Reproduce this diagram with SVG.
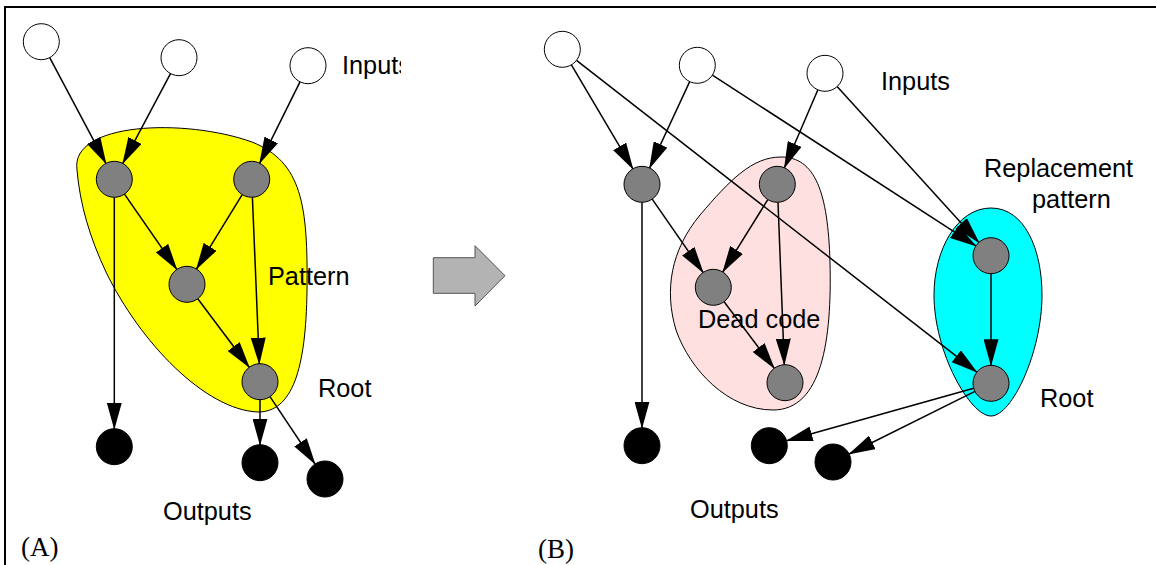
<svg xmlns="http://www.w3.org/2000/svg" width="1156" height="565" viewBox="0 0 1156 565">
<style>
.lbl{font-family:"Liberation Sans",Arial,sans-serif;font-size:25.3px;fill:#000}
.cap{font-family:"Liberation Serif","Times New Roman",serif;font-size:27px;fill:#000}
.in{fill:#fff;stroke:#000;stroke-width:1}
.mid{fill:#808080;stroke:#000;stroke-width:1}
.out{fill:#000;stroke:#000;stroke-width:1}
.e{stroke:#000;stroke-width:1.5;fill:none;marker-end:url(#ah)}
</style>
<defs>
<marker id="ah" viewBox="0 0 27 15" refX="26" refY="7.5" markerWidth="18" markerHeight="10" markerUnits="strokeWidth" orient="auto">
<path d="M0,0 L27,7.5 L0,15 Z" fill="#000"/>
</marker>
<clipPath id="clipIn"><rect x="330" y="40" width="71" height="50"/></clipPath>
</defs>
<rect x="0" y="0" width="1156" height="565" fill="#fff"/>
<g id="frame" stroke="#000" stroke-width="2">
<line x1="5" y1="7" x2="1156" y2="7"/>
<line x1="5" y1="6" x2="5" y2="565"/>
</g>
<g id="pattern-region">
<path d="M77,170 C70,122 185,118 252,142 C302,162 308,205 307,290 C306,370 292,412 258,412 C205,410 140,342 106,272 C90,238 80,205 77,170 Z" fill="#ffff00" stroke="#000" stroke-width="1"/>
</g>
<g id="deadcode-region">
<path d="M781,157 C815,157 828,192 830,262 C832,340 822,410 773,410 C728,410 690,370 676,330 C664,290 671,250 700,215 C730,180 752,157 781,157 Z" fill="#ffe0e0" stroke="#000" stroke-width="1"/>
</g>
<g id="replacement-region">
<path d="M991,208 C1025,208 1042,250 1042,295 C1042,352 1012,416 991,416 C970,416 934,352 934,295 C934,250 957,208 991,208 Z" fill="#00ffff" stroke="#000" stroke-width="1"/>
</g>
<g id="transform-arrow">
<path d="M433.3,257.7 L475,257.7 L475,245.7 L505,275.7 L475,306 L475,293.3 L433.3,293.3 Z" fill="#b3b3b3" stroke="#555" stroke-width="1"/>
</g>
<g id="connectors">
<line class="e" x1="49.7" y1="57.6" x2="105.9" y2="163.4"/>
<line class="e" x1="170.5" y1="73.6" x2="122.8" y2="163.4"/>
<line class="e" x1="300" y1="81.8" x2="259.7" y2="163.2"/>
<line class="e" x1="124.5" y1="194.1" x2="176.8" y2="269.5"/>
<line class="e" x1="242.2" y1="194.6" x2="196.5" y2="269"/>
<line class="e" x1="252.4" y1="197.3" x2="259.3" y2="363.7"/>
<line class="e" x1="197.8" y1="298.7" x2="249.2" y2="367.3"/>
<line class="e" x1="114.3" y1="197.3" x2="114.3" y2="428.7"/>
<line class="e" x1="260" y1="399.7" x2="260" y2="444.7"/>
<line class="e" x1="270" y1="396.7" x2="315" y2="464"/>
<line class="e" x1="571.4" y1="64.8" x2="632.9" y2="168.8"/>
<line class="e" x1="689.7" y1="81.6" x2="649.6" y2="168"/>
<line class="e" x1="576.5" y1="60.4" x2="976.8" y2="372.2"/>
<line class="e" x1="712.4" y1="75.1" x2="975.9" y2="245.9"/>
<line class="e" x1="817.9" y1="89.8" x2="784.4" y2="167.8"/>
<line class="e" x1="837.1" y1="86.6" x2="978.9" y2="242.4"/>
<line class="e" x1="652.2" y1="199.1" x2="703.1" y2="272.5"/>
<line class="e" x1="767.8" y1="199.6" x2="722.8" y2="272"/>
<line class="e" x1="778" y1="202.3" x2="784.3" y2="364.7"/>
<line class="e" x1="724.1" y1="301.7" x2="774.2" y2="368.3"/>
<line class="e" x1="642" y1="202.3" x2="642" y2="427.7"/>
<line class="e" x1="991" y1="273.7" x2="991" y2="365.3"/>
<line class="e" x1="973.7" y1="388.2" x2="786.6" y2="440.8"/>
<line class="e" x1="974.9" y1="391.3" x2="849.1" y2="454"/>
</g>
<g id="a-in1"><circle class="in" cx="41.3" cy="41.7" r="18"/></g>
<g id="a-in2"><circle class="in" cx="179" cy="57.7" r="18"/></g>
<g id="a-in3"><circle class="in" cx="308" cy="65.7" r="18"/></g>
<g id="a-n1"><circle class="mid" cx="114.3" cy="179.3" r="18"/></g>
<g id="a-n2"><circle class="mid" cx="251.7" cy="179.3" r="18"/></g>
<g id="a-n3"><circle class="mid" cx="187" cy="284.3" r="18"/></g>
<g id="a-root"><circle class="mid" cx="260" cy="381.7" r="18"/></g>
<g id="a-out1"><circle class="out" cx="114.3" cy="446.7" r="18"/></g>
<g id="a-out2"><circle class="out" cx="260" cy="462.7" r="18"/></g>
<g id="a-out3"><circle class="out" cx="325" cy="479" r="18"/></g>
<g id="b-in1"><circle class="in" cx="562.3" cy="49.3" r="18"/></g>
<g id="b-in2"><circle class="in" cx="697.3" cy="65.3" r="18"/></g>
<g id="b-in3"><circle class="in" cx="825" cy="73.3" r="18"/></g>
<g id="b-n1"><circle class="mid" cx="642" cy="184.3" r="18"/></g>
<g id="b-dead1"><circle class="mid" cx="777.3" cy="184.3" r="18"/></g>
<g id="b-dead2"><circle class="mid" cx="713.3" cy="287.3" r="18"/></g>
<g id="b-dead3"><circle class="mid" cx="785" cy="382.7" r="18"/></g>
<g id="b-rep1"><circle class="mid" cx="991" cy="255.7" r="18"/></g>
<g id="b-root"><circle class="mid" cx="991" cy="383.3" r="18"/></g>
<g id="b-out1"><circle class="out" cx="642" cy="445.7" r="18"/></g>
<g id="b-out2"><circle class="out" cx="769.3" cy="445.7" r="18"/></g>
<g id="b-out3"><circle class="out" cx="833" cy="462" r="18"/></g>
<g id="labels">
<text class="lbl" x="342" y="74" clip-path="url(#clipIn)">Inputs</text>
<text class="lbl" x="268" y="285">Pattern</text>
<text class="lbl" x="318" y="397">Root</text>
<text class="lbl" x="163" y="520">Outputs</text>
<text class="cap" x="21" y="556">(A)</text>
<text class="lbl" x="881" y="90">Inputs</text>
<text class="lbl" x="984" y="177">Replacement</text>
<text class="lbl" x="1032" y="208">pattern</text>
<text class="lbl" x="698" y="328">Dead code</text>
<text class="lbl" x="1040" y="407">Root</text>
<text class="lbl" x="690" y="518">Outputs</text>
<text class="cap" x="538" y="558">(B)</text>
</g>
</svg>
